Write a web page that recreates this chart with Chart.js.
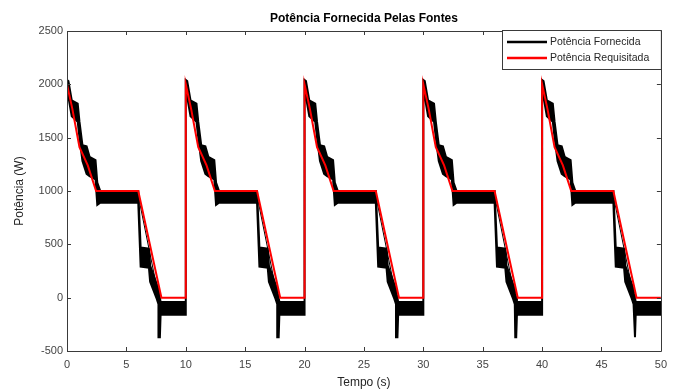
<!DOCTYPE html>
<html>
<head>
<meta charset="utf-8">
<script src="https://cdn.jsdelivr.net/npm/chart.js@4/dist/chart.umd.min.js"></script>
<style>
  html, body { margin: 0; padding: 0; background: #fff; }
</style>
</head>
<body>
<canvas id="chart" width="674" height="391"></canvas>
<script>
// Texts
const titleText = 'Potência Fornecida Pelas Fontes';
const xTitle = 'Tempo (s)';
const yTitle = 'Potência (W)';
const legendLabels = ['Potência Fornecida', 'Potência Requisitada'];
const xTicks = [0, 5, 10, 15, 20, 25, 30, 35, 40, 45, 50];
const yTicks = [-500, 0, 500, 1000, 1500, 2000, 2500];

// Each cycle of 10 s repeats from these start times
const cycleStarts = [0, 10, 20, 30, 40];

// Requested power within one cycle (s, W)
const reqT = [0, 0.45, 1.05, 1.75, 2.45, 6.0, 7.95, 10.0];
const reqW = [2000, 1770, 1410, 1240, 1000, 1000, 0, 0];

// Supplied power: upper / lower edge of the noisy band within one cycle
const fornT  = [0.0, 0.12, 0.40, 0.90, 1.05, 1.30, 1.65, 1.90, 2.40, 2.55, 2.80, 6.00, 6.20, 6.90, 7.00, 7.55, 7.70, 7.74, 7.82, 7.88, 10.0];
const fornUp = [2040, 2030, 1850, 1820, 1650, 1430, 1420, 1320, 1290, 1080, 1000, 1000, 470, 460, 300, 130, 80, 40, 0, -40, -40];
const fornLo = [1960, 1880, 1700, 1650, 1500, 1280, 1160, 1140, 1110, 870, 890, 890, 290, 280, 150, -10, -60, -370, -370, -160, -160];

// thin black trace along the ramp down
const diagT = [6.0, 7.85];
const diagW = [1000, -20];

// build datasets
const reqData = [{ x: 0, y: 0 }];
cycleStarts.forEach(c => reqT.forEach((t, i) => reqData.push({ x: c + t, y: reqW[i] })));

const fornData = [{ x: 0, y: 0 }];
cycleStarts.forEach(c => fornT.forEach((t, i) => fornData.push({ x: c + t, y: fornUp[i] })));
cycleStarts.slice().reverse().forEach(c => {
  for (let i = fornT.length - 1; i >= 0; i--) fornData.push({ x: c + fornT[i], y: fornLo[i] });
});
fornData.push({ x: 0, y: 0 });

const diagData = [];
cycleStarts.forEach(c => {
  diagT.forEach((t, i) => diagData.push({ x: c + t - 0.08, y: diagW[i] }));
  diagData.push({ x: c + 9, y: null });
});

const FONT = "'Liberation Sans', Arial, Helvetica, sans-serif";
const AXIS_COLOR = '#3a3a3a';

// MATLAB style box, inward ticks, title, labels and legend
const matlabPlugin = {
  id: 'matlab',
  afterDraw(chart) {
    const { ctx, chartArea: a, scales } = chart;
    const xs = scales.x, ys = scales.y;
    ctx.save();
    ctx.strokeStyle = AXIS_COLOR;
    ctx.lineWidth = 1;
    ctx.beginPath();
    ctx.rect(Math.round(a.left) + 0.5, Math.round(a.top) + 0.5, Math.round(a.right - a.left), Math.round(a.bottom - a.top));
    ctx.stroke();

    const tl = 4;
    ctx.beginPath();
    xTicks.forEach(v => {
      const px = Math.round(xs.getPixelForValue(v)) + 0.5;
      ctx.moveTo(px, a.bottom); ctx.lineTo(px, a.bottom - tl);
      ctx.moveTo(px, a.top); ctx.lineTo(px, a.top + tl);
    });
    yTicks.forEach(v => {
      const py = Math.round(ys.getPixelForValue(v)) + 0.5;
      ctx.moveTo(a.left, py); ctx.lineTo(a.left + tl, py);
      ctx.moveTo(a.right, py); ctx.lineTo(a.right - tl, py);
    });
    ctx.stroke();

    // title
    ctx.fillStyle = '#000';
    ctx.font = 'bold 12px ' + FONT;
    ctx.textAlign = 'center';
    ctx.textBaseline = 'middle';
    ctx.fillText(titleText, (a.left + a.right) / 2, 19);

    // axis titles
    ctx.fillStyle = '#262626';
    ctx.font = '12px ' + FONT;
    ctx.fillText(xTitle, (a.left + a.right) / 2, 383);
    ctx.save();
    ctx.translate(20, (a.top + a.bottom) / 2);
    ctx.rotate(-Math.PI / 2);
    ctx.fillText(yTitle, 0, 0);
    ctx.restore();

    // legend
    const lx = 502, ly = 30, lw = a.right - lx, lh = 39;
    ctx.fillStyle = '#fff';
    ctx.fillRect(lx, ly, lw, lh);
    ctx.strokeStyle = AXIS_COLOR;
    ctx.strokeRect(lx + 0.5, ly + 0.5, lw, lh);
    const rows = [{ c: '#000', y: 42 }, { c: '#ff0000', y: 58 }];
    rows.forEach((r, i) => {
      ctx.strokeStyle = r.c;
      ctx.lineWidth = 2.5;
      ctx.beginPath();
      ctx.moveTo(507, r.y); ctx.lineTo(547, r.y);
      ctx.stroke();
      ctx.fillStyle = '#262626';
      ctx.font = '10.5px ' + FONT;
      ctx.textAlign = 'left';
      ctx.fillText(legendLabels[i], 550, r.y);
    });
    ctx.restore();
  }
};

new Chart(document.getElementById('chart').getContext('2d'), {
  type: 'line',
  data: {
    datasets: [
      {
        label: legendLabels[1],
        data: reqData,
        borderColor: '#ff0000',
        borderWidth: 2,
        pointRadius: 0,
        tension: 0,
        fill: false,
        order: 0
      },
      {
        label: 'trace',
        data: diagData,
        borderColor: '#000',
        borderWidth: 1,
        pointRadius: 0,
        fill: false,
        spanGaps: false,
        order: 1
      },
      {
        label: legendLabels[0],
        data: fornData,
        borderColor: '#000',
        backgroundColor: '#000',
        borderWidth: 2,
        pointRadius: 0,
        tension: 0,
        fill: 'shape',
        order: 2
      }
    ]
  },
  options: {
    responsive: false,
    animation: false,
    devicePixelRatio: 1,
    layout: { padding: { top: 31, right: 11, left: 0, bottom: 0 } },
    scales: {
      x: {
        type: 'linear',
        min: 0,
        max: 50,
        afterFit: s => { s.height = 40; },
        grid: { display: false, drawTicks: false },
        border: { display: false },
        ticks: {
          stepSize: 5,
          padding: 7,
          color: '#444',
          font: { family: FONT, size: 11 },
          maxRotation: 0,
          callback: v => String(v)
        }
      },
      y: {
        min: -500,
        max: 2500,
        afterFit: s => { s.width = 67; },
        grid: { display: false, drawTicks: false },
        border: { display: false },
        ticks: {
          stepSize: 500,
          padding: 4,
          color: '#444',
          font: { family: FONT, size: 11 },
          callback: v => String(v)
        }
      }
    },
    plugins: {
      legend: { display: false },
      title: { display: false },
      tooltip: { enabled: false }
    }
  },
  plugins: [matlabPlugin]
});
</script>
</body>
</html>
